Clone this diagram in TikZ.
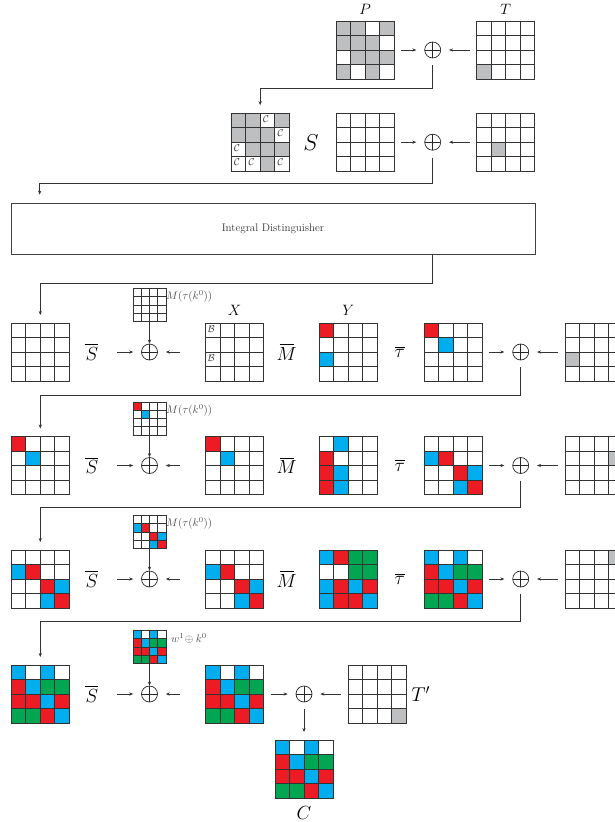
\documentclass[tikz,border=0pt]{standalone}
\usepackage{fix-cm}
\usepackage{amsmath,amssymb}
\usetikzlibrary{arrows.meta,positioning,calc}
\definecolor{R}{HTML}{ED1C24}
\definecolor{B}{HTML}{00AEEF}
\definecolor{G}{HTML}{00A651}
\definecolor{K}{HTML}{BEBFC1}
\definecolor{W}{HTML}{FFFFFF}
\tikzset{
  st/.style   ={minimum size=58pt,inner sep=0pt,outer sep=0pt},
  ky/.style   ={minimum size=33pt,inner sep=0pt,outer sep=0pt},
  gl/.style   ={line width=0.8pt,draw=black!80},
  xr/.style   ={circle,draw=black!85,line width=0.7pt,minimum size=16pt,inner sep=0pt,
                path picture={\draw[line width=0.7pt,black!85]
                  (path picture bounding box.north)--(path picture bounding box.south)
                  (path picture bounding box.west)--(path picture bounding box.east);}},
  big/.style  ={inner sep=0pt,font=\fontsize{19}{22}\selectfont},
  mid/.style  ={inner sep=0pt,font=\fontsize{15}{18}\selectfont},
  kl/.style   ={inner sep=0pt,text=black!70,font=\fontsize{11}{13}\selectfont},
  note/.style ={inner sep=0pt,text=black!80,font=\fontsize{10}{12}\selectfont},
  idbox/.style={draw=black!75,line width=0.7pt,minimum width=524pt,minimum height=51pt,
                inner sep=0pt,text=black!80,font=\fontsize{11}{13}\selectfont},
  ar/.style   ={-{Stealth[length=4pt,width=3.2pt]},line width=0.6pt,draw=black!80,
                shorten >=8pt,shorten <=7pt},
}
% 4x4 state: node name, cell size, 16 colours row by row
\newcommand{\stcells}[3]{%
  \begin{scope}[shift={(#1.north west)},x=#2,y=-#2]
    \edef\celllist{#3}
    \foreach \col [count=\i from 0] in \celllist {
      \pgfmathtruncatemacro{\rw}{div(\i,4)}
      \pgfmathtruncatemacro{\cl}{mod(\i,4)}
      \fill[\col] (\cl,\rw) rectangle ++(1,1);}
    \foreach \k in {1,2,3}{\draw[gl] (\k,0)--(\k,4) (0,\k)--(4,\k);}
    \draw[gl] (0,0) rectangle (4,4);
  \end{scope}}
% letter in one cell: grid, column, row, letter
\newcommand{\cellnote}[4]{%
  \node[note] (#1-#2-#3) at ($(#1.north west)+({(#2-0.5)*14.5-1.5},{(#3-0.5)*14.5-1.5})$) {$\mathcal{#4}$};}
\newcommand{\Sbar}{\overline{\mkern1mu S}}
\newcommand{\Mbar}{\overline{\rlap{$\mkern-3mu M$}\mkern2mu\hphantom{S}}}
\newcommand{\patP}{K,K,W,K,K,K,K,W,W,K,K,K,K,W,K,W}
\newcommand{\patS}{K,K,W,K,K,K,K,W,W,K,K,K,W,W,K,W}
\newcommand{\patE}{W,W,W,W,W,W,W,W,W,W,W,W,W,W,W,W}
\newcommand{\patA}{R,W,W,W,W,B,W,W,W,W,W,W,W,W,W,W}
\newcommand{\patB}{W,W,W,W,B,R,W,W,W,W,R,B,W,W,B,R}
\newcommand{\patC}{B,W,B,W,R,B,G,G,R,R,B,R,G,G,R,B}

\begin{document}
\begin{tikzpicture}[x=1pt,y=-1pt]
\useasboundingbox (0,0) rectangle (614,822);
% plaintext and tweak
\node[st] (pl) at (365,50) {};
\node[xr] (xa) at (432.7,50) {};
\node[st] (tw0) at (505.7,50) {};
\node[mid, above=6pt of pl] (pll) {$P$};
\node[mid, above=6pt of tw0] (twl) {$T$};
\stcells{pl}{14.5pt}{\patP}
\stcells{tw0}{14.5pt}{W,W,W,W,W,W,W,W,W,W,W,W,K,W,W,W}
\draw[ar] (pl) -- (xa); \draw[ar] (tw0) -- (xa);

% S row
\node[st] (sc) at (260.2,142.2) {};
\node[big, right=14pt of sc, font=\fontsize{23}{26}\selectfont] (sl) {$S$};
\node[st] (sm) at (365,142.2) {};
\node[xr] (xb) at (432.7,142.2) {};
\node[st] (tw1) at (505.5,142.2) {};
\stcells{sc}{14.5pt}{\patS}
\cellnote{sc}{3}{1}{C} \cellnote{sc}{4}{2}{C} \cellnote{sc}{1}{3}{C}
\cellnote{sc}{1}{4}{C} \cellnote{sc}{2}{4}{C} \cellnote{sc}{4}{4}{C}
\stcells{sm}{14.5pt}{\patE}
\stcells{tw1}{14.5pt}{W,W,W,W,W,W,W,W,W,K,W,W,W,W,W,W}
\draw[ar] (xa.south) -- ++(0,30) -| (sc.north);
\draw[ar] (sm) -- (xb); \draw[ar] (tw1) -- (xb);

\node[idbox] (ID) at (273,228.5) {Integral Distinguisher};
\draw[ar] (xb.south) -- ++(0,33) -| ([xshift=29pt]ID.north west);

% round 1
\node[st] (s1) at (40.3,352) {};
\node[big, right=15pt of s1] (sb1) {$\Sbar$};
\node[ky] (k1) at (149.5,305) {};
\node[kl, anchor=west] (kl1) at ([yshift=-8pt]k1.north east) {$M(\tau(k^0))$};
\node[xr] (a1) at (149.5,352) {};
\node[st] (m1) at (234.5,352) {};
\node[mid, above=7pt of m1] (xl) {$X$};
\node[big, right=16pt of m1] (mb1) {$\Mbar$};
\node[st] (y1) at (348.3,352) {};
\node[mid, above=7pt of y1] (yl) {$Y$};
\node[big, right=17pt of y1] (tb1) {$\overline{\tau}$};
\node[st] (t1) at (453.3,352) {};
\node[xr] (b1) at (520.7,352) {};
\node[st] (w1) at (594,352) {};
\stcells{s1}{14.5pt}{\patE}
\stcells{k1}{8.25pt}{\patE}
\stcells{m1}{14.5pt}{\patE}
\cellnote{m1}{1}{1}{B} \cellnote{m1}{1}{3}{B}
\stcells{y1}{14.5pt}{R,W,W,W,W,W,W,W,B,W,W,W,W,W,W,W}
\stcells{t1}{14.5pt}{\patA}
\stcells{w1}{14.5pt}{W,W,W,W,W,W,W,W,K,W,W,W,W,W,W,W}
\draw[ar,shorten <=0pt] (ID.south -| xb) -- ++(0,29) -| (s1.north);
\draw[ar,shorten <=48pt] (s1) -- (a1);
\draw[ar,shorten <=26pt] (m1) -- (a1);
\draw[ar,shorten <=0pt,shorten >=0pt] (k1) -- (a1);
\draw[ar] (t1) -- (b1); \draw[ar] (w1) -- (b1);

% round 2
\node[st] (s2) at (40.3,465.5) {};
\node[big, right=15pt of s2] (sb2) {$\Sbar$};
\node[ky] (k2) at (149.5,418.5) {};
\node[kl, anchor=west] (kl2) at ([yshift=-8pt]k2.north east) {$M(\tau(k^0))$};
\node[xr] (a2) at (149.5,465.5) {};
\node[st] (m2) at (234.5,465.5) {};
\node[big, right=16pt of m2] (mb2) {$\Mbar$};
\node[st] (y2) at (348.3,465.5) {};
\node[big, right=17pt of y2] (tb2) {$\overline{\tau}$};
\node[st] (t2) at (453.3,465.5) {};
\node[xr] (b2) at (520.7,465.5) {};
\node[st] (w2) at (594,465.5) {};
\stcells{s2}{14.5pt}{\patA}
\stcells{k2}{8.25pt}{\patA}
\stcells{m2}{14.5pt}{\patA}
\stcells{y2}{14.5pt}{W,B,W,W,R,W,W,W,R,B,W,W,R,B,W,W}
\stcells{t2}{14.5pt}{\patB}
\stcells{w2}{14.5pt}{W,W,W,W,W,W,W,K,W,W,W,W,W,W,W,W}
\draw[ar] (b1.south) -- ++(0,35) -| (s2.north);
\draw[ar,shorten <=48pt] (s2) -- (a2);
\draw[ar,shorten <=26pt] (m2) -- (a2);
\draw[ar,shorten <=0pt,shorten >=0pt] (k2) -- (a2);
\draw[ar] (t2) -- (b2); \draw[ar] (w2) -- (b2);

% round 3
\node[st] (s3) at (40.3,579) {};
\node[big, right=15pt of s3] (sb3) {$\Sbar$};
\node[ky] (k3) at (149.5,532) {};
\node[kl, anchor=west] (kl3) at ([yshift=-8pt]k3.north east) {$M(\tau(k^0))$};
\node[xr] (a3) at (149.5,579) {};
\node[st] (m3) at (234.5,579) {};
\node[big, right=16pt of m3] (mb3) {$\Mbar$};
\node[st] (y3) at (348.3,579) {};
\node[big, right=17pt of y3] (tb3) {$\overline{\tau}$};
\node[st] (t3) at (453.3,579) {};
\node[xr] (b3) at (520.7,579) {};
\node[st] (w3) at (594,579) {};
\stcells{s3}{14.5pt}{\patB}
\stcells{k3}{8.25pt}{\patB}
\stcells{m3}{14.5pt}{\patB}
\stcells{y3}{14.5pt}{B,R,G,G,W,W,G,G,B,R,B,R,B,R,R,B}
\stcells{t3}{14.5pt}{\patC}
\stcells{w3}{14.5pt}{W,W,W,K,W,W,W,W,W,W,W,W,W,W,W,W}
\draw[ar] (b2.south) -- ++(0,33.5) -| (s3.north);
\draw[ar,shorten <=48pt] (s3) -- (a3);
\draw[ar,shorten <=26pt] (m3) -- (a3);
\draw[ar,shorten <=0pt,shorten >=0pt] (k3) -- (a3);
\draw[ar] (t3) -- (b3); \draw[ar] (w3) -- (b3);

% last round and output
\node[st] (s4) at (40.3,694) {};
\node[big, right=15pt of s4] (sb4) {$\Sbar$};
\node[ky] (k4) at (149.5,647) {};
\node[kl, anchor=west] (kl4) at ([xshift=5pt,yshift=-8pt]k4.north east) {$w^1\!\oplus k^0$};
\node[xr] (a4) at (149.5,694) {};
\node[st] (m4) at (234.5,694) {};
\node[xr] (xc) at (304,694) {};
\node[st] (tp) at (377.2,694) {};
\node[big, right=5pt of tp, font=\fontsize{20}{23}\selectfont] (tpl) {$T'$};
\node[st] (cc) at (304,769) {};
\node[big, below=8pt of cc] (ccl) {$C$};
\stcells{s4}{14.5pt}{\patC}
\stcells{k4}{8.25pt}{\patC}
\stcells{m4}{14.5pt}{\patC}
\stcells{tp}{14.5pt}{W,W,W,W,W,W,W,W,W,W,W,W,W,W,W,K}
\stcells{cc}{14.5pt}{\patC}
\draw[ar] (b3.south) -- ++(0,34) -| (s4.north);
\draw[ar,shorten <=48pt] (s4) -- (a4);
\draw[ar,shorten <=26pt] (m4) -- (a4);
\draw[ar,shorten <=0pt,shorten >=0pt] (k4) -- (a4);
\draw[ar] (m4) -- (xc); \draw[ar] (tp) -- (xc);
\draw[ar] (xc) -- (cc);
\end{tikzpicture}
\end{document}
